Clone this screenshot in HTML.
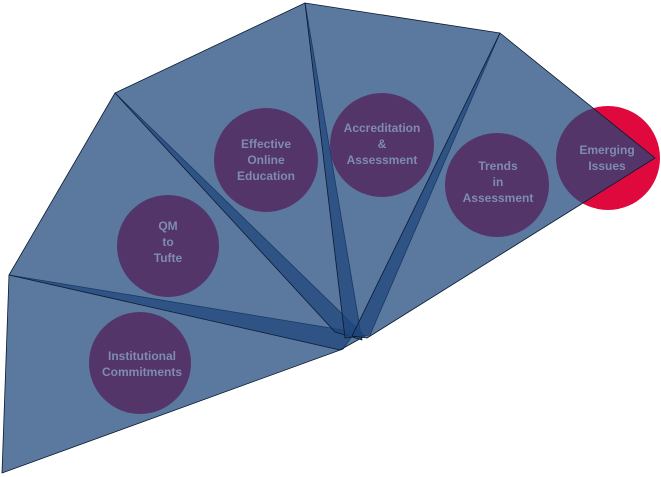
<!DOCTYPE html>
<html><head><meta charset="utf-8"><style>
html,body{margin:0;padding:0;background:#fff;}
svg{display:block;}
text{font-family:"Liberation Sans",sans-serif;font-weight:bold;font-size:12px;fill:#7f8bb3;text-anchor:middle;}
</style></head><body>
<svg width="661" height="477" viewBox="0 0 661 477">
<g fill="#e0093e">
<circle cx="140" cy="363" r="51"/>
<circle cx="168" cy="246" r="51"/>
<circle cx="266" cy="160" r="52"/>
<circle cx="382" cy="145" r="52"/>
<circle cx="497" cy="185" r="52"/>
<circle cx="608" cy="158" r="52"/>
</g>
<g fill="#1e467a" fill-opacity="0.73" stroke="#0a1a30" stroke-width="0.8" stroke-linejoin="round">
<polygon points="2,473 9,275 355,332 343,349"/>
<polygon points="9,275 115,93 365,336 340,350"/>
<polygon points="115,93 305,3 362,340 335,332"/>
<polygon points="305,3 500,33 370,335 345,338"/>
<polygon points="500,33 655,158 367,338 352,336"/>
</g>
<g>
<text x="142" y="360">Institutional</text>
<text x="142" y="376">Commitments</text>
<text x="168" y="230">QM</text>
<text x="168" y="246">to</text>
<text x="168" y="262">Tufte</text>
<text x="266" y="148">Effective</text>
<text x="266" y="164">Online</text>
<text x="266" y="180">Education</text>
<text x="382" y="132">Accreditation</text>
<text x="382" y="148">&amp;</text>
<text x="382" y="164">Assessment</text>
<text x="498" y="170">Trends</text>
<text x="498" y="186">in</text>
<text x="498" y="202">Assessment</text>
<text x="607" y="154">Emerging</text>
<text x="607" y="170">Issues</text>
</g>
</svg>
</body></html>
